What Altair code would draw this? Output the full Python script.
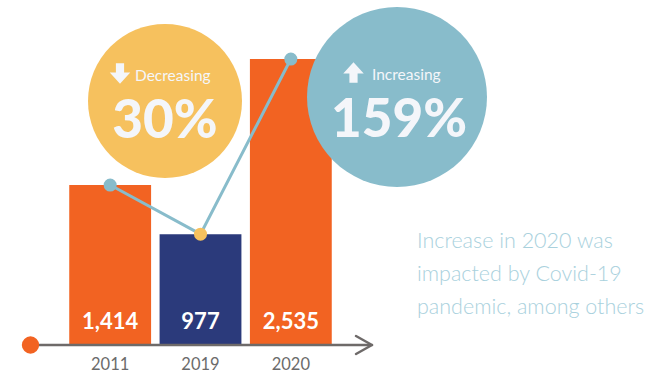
import altair as alt
import pandas as pd

years = ["2011", "2019", "2020"]
counts = [1414, 977, 2535]
bar_colors = ["#f26322", "#2b3a7b", "#f26322"]
dot_colors = ["#88bccb", "#f6c15e", "#88bccb"]
badge_words = ["Decreasing", "Increasing"]
badge_pcts = ["30%", "159%"]
note_lines = ["Increase in 2020 was", "impacted by Covid-19", "pandemic, among others"]

df = pd.DataFrame({"year": years, "count": counts,
                   "bar_color": bar_colors, "dot_color": dot_colors})
one = pd.DataFrame({"k": [0]})

OX = 65   # left padding of the plot area
W = 271
H = 344
WHITE = "#f4f6fa"


def px(x):
    return alt.value(x - OX)


x_enc = alt.X("year:N", sort=years,
              scale=alt.Scale(paddingInner=0.094, paddingOuter=0.047),
              axis=alt.Axis(title=None, domain=False, ticks=False, labelAngle=0,
                            labelFont="Lato", labelFontSize=16.5, labelColor="#6b6b6b",
                            labelPadding=12))
y_enc = alt.Y("count:Q", scale=alt.Scale(domain=[0, 3060], nice=False), axis=None)

base = alt.Chart(df)

bars = base.mark_bar().encode(x=x_enc, y=y_enc,
                              color=alt.Color("bar_color:N", scale=None))

bar_labels = base.mark_text(font="Lato", fontSize=22, fontWeight="bold",
                            color="white", baseline="alphabetic").encode(
    x=alt.X("year:N", sort=years), y=alt.value(329),
    text=alt.Text("count:Q", format=","))

# badges
circ_dec = alt.Chart(one).mark_circle(size=23716, color="#f6c15e", opacity=1).encode(
    x=px(165), y=alt.value(101))
circ_inc = alt.Chart(one).mark_circle(size=32400, color="#88bccb", opacity=1).encode(
    x=px(397), y=alt.value(97))

down_path = "M-0.4,-1L0.4,-1L0.4,-0.1L1,-0.1L0,1L-1,-0.1L-0.4,-0.1Z"
up_path = "M-0.4,1L0.4,1L0.4,0.1L1,0.1L0,-1L-1,0.1L-0.4,0.1Z"
icon_dec = alt.Chart(one).mark_point(shape=down_path, size=420, filled=True,
                                     color=WHITE, opacity=1, strokeWidth=0).encode(
    x=px(120), y=alt.value(73.5))
icon_inc = alt.Chart(one).mark_point(shape=up_path, size=420, filled=True,
                                     color=WHITE, opacity=1, strokeWidth=0).encode(
    x=px(353.5), y=alt.value(72.5))

word_dec = alt.Chart(one).mark_text(font="Lato", fontSize=15.5, color=WHITE,
                                    align="left", baseline="alphabetic").encode(
    x=px(135), y=alt.value(81), text=alt.value(badge_words[0]))
word_inc = alt.Chart(one).mark_text(font="Lato", fontSize=15.5, color=WHITE,
                                    align="left", baseline="alphabetic").encode(
    x=px(372), y=alt.value(80), text=alt.value(badge_words[1]))

pct_dec = alt.Chart(one).mark_text(font="Lato", fontSize=53, fontWeight=900, color=WHITE,
                                   align="center", baseline="alphabetic").encode(
    x=px(165), y=alt.value(138), text=alt.value(badge_pcts[0]))
pct_inc = alt.Chart(one).mark_text(font="Lato", fontSize=53, fontWeight=900, color=WHITE,
                                   align="center", baseline="alphabetic").encode(
    x=px(399), y=alt.value(137), text=alt.value(badge_pcts[1]))

# connecting line and dots
line = base.mark_line(color="#88bccb", strokeWidth=3).encode(
    x=alt.X("year:N", sort=years), y="count:Q")
dots = base.mark_circle(size=170, opacity=1).encode(
    x=alt.X("year:N", sort=years), y="count:Q",
    color=alt.Color("dot_color:N", scale=None))

# baseline arrow
axis_line = alt.Chart(one).mark_rule(color="#6e6a69", strokeWidth=2.5).encode(
    x=px(30), x2=px(371), y=alt.value(345))
arrow_up = alt.Chart(one).mark_rule(color="#6e6a69", strokeWidth=2.5, strokeCap="round").encode(
    x=px(356), x2=px(372), y=alt.value(336), y2=alt.value(345))
arrow_dn = alt.Chart(one).mark_rule(color="#6e6a69", strokeWidth=2.5, strokeCap="round").encode(
    x=px(356), x2=px(372), y=alt.value(354), y2=alt.value(345))
start_dot = alt.Chart(one).mark_circle(size=300, color="#f26322", opacity=1).encode(
    x=px(30.5), y=alt.value(345))

note = alt.Chart(one).mark_text(font="Lato", fontSize=21.5, fontWeight=300, color="#a9d1dd",
                                align="left", baseline="alphabetic",
                                lineBreak="\n", lineHeight=33).encode(
    x=px(417), y=alt.value(248), text=alt.value("\n".join(note_lines)))

chart = alt.layer(
    bars, circ_dec, circ_inc, line, dots, bar_labels,
    icon_dec, icon_inc, word_dec, word_inc, pct_dec, pct_inc,
    axis_line, arrow_up, arrow_dn, start_dot, note
).properties(
    width=W, height=H,
    padding={"left": OX, "top": 0, "right": 648 - OX - W, "bottom": 378 - H},
    autosize="none", background="white"
).configure_view(stroke=None)

chart.save("out.html", embed_options={"renderer": "svg", "actions": False})
